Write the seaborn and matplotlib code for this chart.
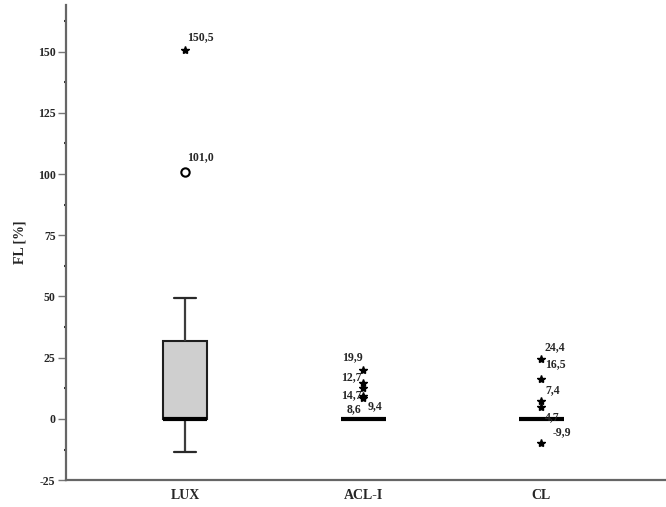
import numpy as np
import pandas as pd
import matplotlib
matplotlib.use("Agg")
import matplotlib.pyplot as plt
from matplotlib.ticker import MultipleLocator
import seaborn as sns

# values (group medians / quartiles / whiskers / outliers)
categories = ["LUX", "ACL-I", "CL"]
lux_values = [-13.5, 0, 0, 0, 0, 0, 0, 0, 10, 32, 32, 32, 49.5, 101.0, 150.5]
acl_values = [0] * 20 + [8.6, 9.4, 12.7, 14.7, 19.9]
cl_values = [-9.9] + [0] * 20 + [4.7, 7.4, 16.5, 24.4]

# label offsets for outlier annotations (pixels dx, dy, alignment)
label_layout = {
    ("LUX", 150.5): (2, 13, "left"),
    ("LUX", 101.0): (2, 14, "left"),
    ("ACL-I", 19.9): (-1, 13, "right"),
    ("ACL-I", 14.7): (-2, -12, "right"),
    ("ACL-I", 12.7): (-2, 11, "right"),
    ("ACL-I", 9.4): (4, -10, "left"),
    ("ACL-I", 8.6): (-2, -11, "right"),
    ("CL", 24.4): (3, 12, "left"),
    ("CL", 16.5): (4, 14, "left"),
    ("CL", 7.4): (4, 11, "left"),
    ("CL", 4.7): (4, -10, "left"),
    ("CL", -9.9): (11, 11, "left"),
}

df = pd.DataFrame({
    "group": ["LUX"] * len(lux_values) + ["ACL-I"] * len(acl_values) + ["CL"] * len(cl_values),
    "FL": lux_values + acl_values + cl_values,
})

sns.set_style("white")
plt.rcParams["font.family"] = ["Liberation Serif", "DejaVu Serif"]
plt.rcParams["font.weight"] = "bold"
plt.rcParams["axes.unicode_minus"] = False

fig = plt.figure(figsize=(6.66, 5.07), dpi=100)
ax = fig.add_axes([0.099, 0.053, 0.901, 0.937])

sns.boxplot(
    data=df, x="group", y="FL", order=categories, ax=ax,
    width=0.25, color="#cfcfcf", saturation=1, showfliers=False,
    whis=1.5,
    boxprops={"edgecolor": "#1e1e1e", "linewidth": 1.5},
    whiskerprops={"color": "#3c3c3c", "linewidth": 1.6},
    capprops={"color": "#2a2a2a", "linewidth": 1.6},
    medianprops={"color": "black", "linewidth": 3},
)

# outliers: circle beyond 1.5 IQR, star beyond 3 IQR (SPSS style)
for i, cat in enumerate(categories):
    vals = np.array(df.loc[df["group"] == cat, "FL"])
    q1, q3 = np.percentile(vals, [25, 75])
    iqr = q3 - q1
    for v in vals:
        if v > q3 + 1.5 * iqr or v < q1 - 1.5 * iqr:
            extreme = v > q3 + 3 * iqr or v < q1 - 3 * iqr
            if extreme:
                ax.plot(i, v, marker="*", color="black", markersize=6, linestyle="none")
            else:
                ax.plot(i, v, marker="o", markerfacecolor="white", markeredgecolor="black",
                        markeredgewidth=1.5, markersize=6, linestyle="none")
            dx, dy, ha = label_layout.get((cat, v), (3, 10, "left"))
            ax.annotate(f"{v:.1f}".replace(".", ","), (i, v),
                        xytext=(dx * 0.72, dy * 0.72), textcoords="offset points",
                        ha=ha, va="center", fontsize=8.5, fontweight="bold")

ax.set_xlim(-0.67, 2.7)
ax.set_ylim(-25, 169)
ax.yaxis.set_major_locator(MultipleLocator(25))
ax.yaxis.set_minor_locator(MultipleLocator(12.5))
ax.tick_params(axis="y", which="major", left=True, length=5.5, width=1, color="#777777",
               labelsize=8.5, pad=2)
ax.tick_params(axis="y", which="minor", left=True, length=1.8, width=1.5, color="#333333")
ax.tick_params(axis="x", bottom=False, labelsize=10, pad=3)
for lab in ax.get_xticklabels() + ax.get_yticklabels():
    lab.set_fontweight("bold")

sns.despine(ax=ax)
for side in ["left", "bottom"]:
    ax.spines[side].set_color("#666666")
    ax.spines[side].set_linewidth(1.6)

ax.set_xlabel("")
ax.set_ylabel("FL [%]", fontsize=10, fontweight="bold", labelpad=8)

fig.savefig("out.png", dpi=100)
